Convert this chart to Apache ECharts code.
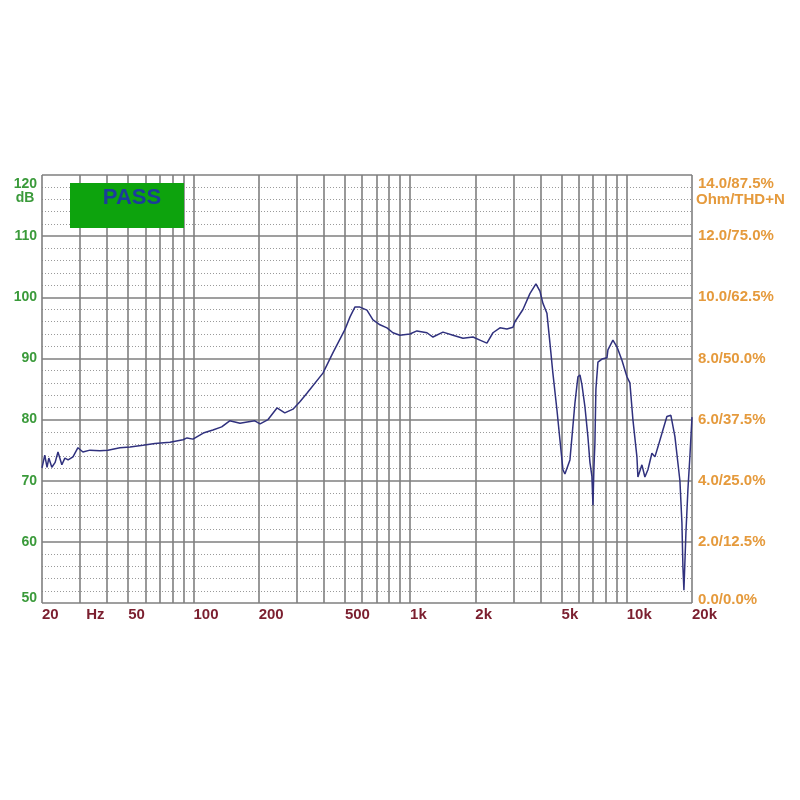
<!DOCTYPE html>
<html>
<head>
<meta charset="utf-8">
<title>Frequency response</title>
<script src="https://cdn.jsdelivr.net/npm/echarts@6/dist/echarts.min.js"></script>
<style>
  html, body { margin: 0; padding: 0; background: #fff; }
  #main { width: 800px; height: 800px; }
</style>
</head>
<body>
<div id="main"></div>
<script>
// measured curve (Hz / dB)
const freqHz = [20, 20.6, 21.1, 21.5, 22.2, 23, 23.7, 24.7, 25.5, 26.4, 27.8, 29.3, 30.9, 33.3, 37, 40.3,
    45.8, 51, 58.5, 66.4, 77.9, 89.5, 93.4, 99.5, 111, 123, 135, 147, 164, 177, 192, 203, 221, 243, 264,
    288, 310, 334, 396, 440, 500, 528, 556, 587, 632, 674, 726, 782, 833, 897, 998, 1075, 1196, 1275,
    1418, 1577, 1754, 1950, 2100, 2262, 2412, 2598, 2798, 2983, 3046, 3317, 3572, 3808, 3973, 4103,
    4280, 4420, 4560, 4760, 4914, 5074, 5182, 5466, 5764, 5950, 6080, 6208, 6410, 6616, 6760, 6904,
    6980, 7052, 7128, 7204, 7360, 7680, 8100, 8184, 8630, 9006, 9498, 10018, 10338, 10674, 11138,
    11256, 11746, 12124, 12518, 13060, 13486, 13920, 14680, 15320, 15980, 16680, 17590, 17970, 18160,
    18354, 18746, 19148, 19560, 20000];
const levelDb = [72.1, 74.2, 72.2, 73.7, 72.2, 73, 74.7, 72.6, 73.7, 73.4, 73.9, 75.4, 74.7, 75, 74.9, 75,
    75.4, 75.5, 75.8, 76.1, 76.3, 76.7, 77, 76.8, 77.8, 78.3, 78.8, 79.8, 79.4, 79.6, 79.8, 79.3, 80, 81.9, 81.1,
    81.7, 82.9, 84.3, 87.6, 90.9, 94.7, 96.8, 98.4, 98.4, 97.9, 96.3, 95.5, 95, 94.2, 93.8, 94, 94.5, 94.2, 93.5,
    94.3, 93.8, 93.3, 93.5, 93, 92.5, 94.2, 95, 94.8, 95.1, 96, 98, 100.6, 102.2, 101, 99,
    97.4, 92.5, 87.6, 81.6, 76.7, 71.8, 71.1, 73.4, 82.7, 87, 87.3, 85.7, 82.1, 77.2, 73, 70.7,
    66, 72, 76.2, 85, 89.4, 89.9, 90.1, 91.4, 93, 91.9, 89.7, 87, 86, 80, 73.9,
    70.6, 72.6, 70.6, 71.8, 74.5, 73.9, 75.5, 78.3, 80.5, 80.7, 77.2, 70, 63.1, 55.9,
    52.1, 61.4, 68.5, 74, 80.4];

// axes
const gridFreqs = [20, 30, 40, 50, 60, 70, 80, 90, 100, 200, 300, 400, 500, 600, 700, 800, 900,
    1000, 2000, 3000, 4000, 5000, 6000, 7000, 8000, 9000, 10000, 20000];
const xLabelFreqs = [20, 32, 50, 100, 200, 500, 1000, 2000, 5000, 10000, 20000];
const xLabelTexts = ['20', 'Hz', '50', '100', '200', '500', '1k', '2k', '5k', '10k', '20k'];
const dbTicks = [50, 60, 70, 80, 90, 100, 110, 120];
const rightLabels = ['0.0/0.0%', '2.0/12.5%', '4.0/25.0%', '6.0/37.5%', '8.0/50.0%',
    '10.0/62.5%', '12.0/75.0%', '14.0/87.5%'];
const leftUnit = 'dB';
const rightUnit = 'Ohm/THD+N';

const chart = echarts.init(document.getElementById('main'));

const lg = f => Math.log10(f);
const xLabelPos = xLabelFreqs.map(lg);

function xLabel(v) {
    let best = 0;
    xLabelPos.forEach((p, i) => {
        if (Math.abs(p - v) < Math.abs(xLabelPos[best] - v)) best = i;
    });
    return xLabelTexts[best];
}

const FONT = 'Liberation Sans, Arial, sans-serif';
const GREEN = '#3a9a3a';
const ORANGE = '#e59a3c';

// top labels sit a bit below the top line, like in the original plot
const topDb = dbTicks[dbTicks.length - 1];
const topRight = rightLabels[rightLabels.length - 1];

let option = {
    animation: false,
    backgroundColor: '#fff',
    grid: { left: 42, right: 108, top: 175, bottom: 197 },
    xAxis: {
        type: 'value',
        min: lg(20),
        max: lg(20000),
        axisLine: { show: false },
        axisTick: { show: false, customValues: gridFreqs.map(lg) },
        splitLine: { show: true, lineStyle: { color: '#7f7f7f', width: 1.6 } },
        axisLabel: {
            customValues: xLabelPos,
            showMinLabel: true,
            showMaxLabel: true,
            formatter: xLabel,
            align: 'left',
            margin: 4,
            color: '#7b1f2f',
            fontWeight: 'bold',
            fontSize: 15,
            fontFamily: FONT
        }
    },
    yAxis: [
        {
            type: 'value',
            position: 'left',
            min: 50,
            max: 120,
            interval: 10,
            axisLine: { show: false },
            axisTick: { show: false },
            minorTick: { show: false, splitNumber: 5 },
            splitLine: { show: true, lineStyle: { color: '#7f7f7f', width: 1.6 } },
            minorSplitLine: { show: true, lineStyle: { color: '#9a9a9a', width: 1, type: [1, 2] } },
            axisLabel: {
                showMaxLabel: false,
                margin: 5,
                color: GREEN,
                fontWeight: 'bold',
                fontSize: 14,
                fontFamily: FONT,
                formatter: v => (v === 50 ? '{b|50}' : String(v)),
                rich: {
                    b: { padding: [0, 0, 10, 0] }
                }
            }
        },
        {
            type: 'value',
            position: 'right',
            min: 50,
            max: 120,
            interval: 10,
            axisLine: { show: false },
            axisTick: { show: false },
            splitLine: { show: false },
            axisLabel: {
                showMaxLabel: false,
                margin: 6,
                color: ORANGE,
                fontWeight: 'bold',
                fontSize: 15,
                fontFamily: FONT,
                formatter: v => {
                    const txt = rightLabels[dbTicks.indexOf(v)];
                    return v === 50 ? '{b|' + txt + '}' : txt;
                },
                rich: {
                    b: { padding: [0, 0, 6, 0] }
                }
            }
        }
    ],
    graphic: [
        {
            type: 'rect',
            z: 100,
            shape: { x: 70, y: 183, width: 114, height: 45 },
            style: { fill: '#0da30d' }
        },
        {
            type: 'text',
            z: 101,
            x: 132,
            y: 198,
            style: {
                text: 'PASS',
                fill: '#1c3c9c',
                font: 'bold 22px ' + FONT,
                align: 'center',
                verticalAlign: 'middle'
            }
        },
        {
            type: 'text',
            z: 101,
            x: 37,
            y: 184,
            style: { text: String(topDb), fill: GREEN, font: 'bold 14px ' + FONT, align: 'right', verticalAlign: 'middle' }
        },
        {
            type: 'text',
            z: 101,
            x: 25,
            y: 198,
            style: { text: leftUnit, fill: GREEN, font: 'bold 14px ' + FONT, align: 'center', verticalAlign: 'middle' }
        },
        {
            type: 'text',
            z: 101,
            x: 698,
            y: 184,
            style: { text: topRight, fill: ORANGE, font: 'bold 15px ' + FONT, align: 'left', verticalAlign: 'middle' }
        },
        {
            type: 'text',
            z: 101,
            x: 696,
            y: 200,
            style: { text: rightUnit, fill: ORANGE, font: 'bold 15px ' + FONT, align: 'left', verticalAlign: 'middle' }
        }
    ],
    series: [
        {
            type: 'line',
            data: freqHz.map((f, i) => [lg(f), levelDb[i]]),
            showSymbol: false,
            lineStyle: { color: '#30317e', width: 1.5 },
            silent: true
        }
    ]
};

chart.setOption(option);
</script>
</body>
</html>
